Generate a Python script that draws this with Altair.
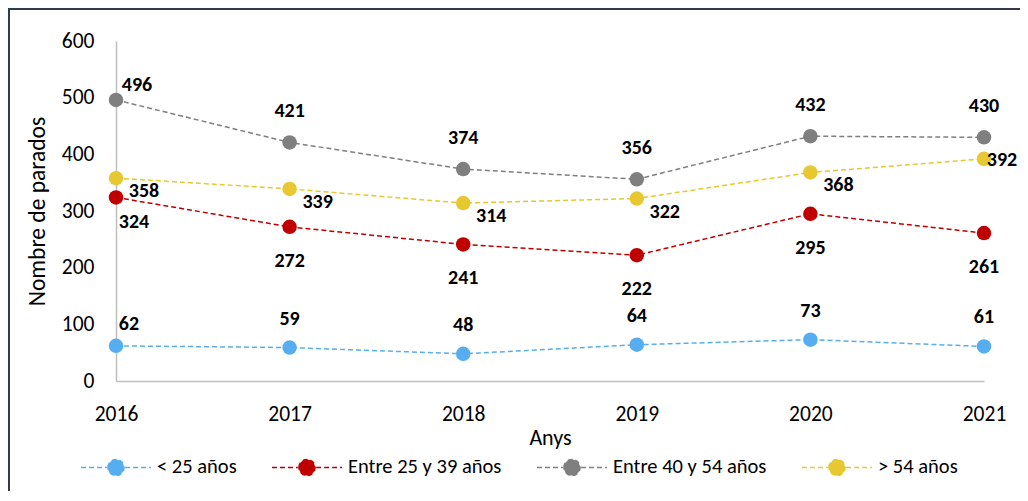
import altair as alt
import pandas as pd
import json

years = ["2016", "2017", "2018", "2019", "2020", "2021"]
series = ["< 25 años", "Entre 25 y 39 años", "Entre 40 y 54 años", "> 54 años"]
v_lt25 = [62, 59, 48, 64, 73, 61]
v_25_39 = [324, 272, 241, 222, 295, 261]
v_40_54 = [496, 421, 374, 356, 432, 430]
v_gt54 = [358, 339, 314, 322, 368, 392]
y_ticks = [0, 100, 200, 300, 400, 500, 600]
colors = ["#56AEF0", "#C00000", "#7F7F7F", "#E8C830"]

rows = []
for s, vals in zip(series, [v_lt25, v_25_39, v_40_54, v_gt54]):
    for yr, v in zip(years, vals):
        rows.append({"Year": yr, "Serie": s, "Value": v})
df = pd.DataFrame(rows)

FONT = "Carlito, Calibri, Lato, sans-serif"

x_enc = alt.X(
    "Year:O",
    scale=alt.Scale(type="point", padding=0),
    axis=alt.Axis(
        title="Anys", labelAngle=0, labelFontSize=21.5, labelFont=FONT, labelColor="#000000",
        labelPadding=22, ticks=False, domainColor="#BFBFBF", domainWidth=1.5,
        titleFontSize=22, titleFont=FONT, titleFontWeight="normal", titleColor="#000000",
        titlePadding=3, grid=False,
    ),
)
y_enc = alt.Y(
    "Value:Q",
    scale=alt.Scale(domain=[0, 600], nice=False),
    axis=alt.Axis(
        title="Nombre de parados", values=y_ticks, labelFontSize=21.5, labelFont=FONT,
        labelColor="#000000", labelPadding=22, ticks=False, domainColor="#BFBFBF",
        domainWidth=1.5, titleFontSize=23.5, titleFont=FONT, titleFontWeight="normal",
        titleColor="#000000", titlePadding=12, grid=False,
    ),
)

legend = alt.Legend(
    title=None, orient="none", direction="horizontal", legendX=-36, legendY=390,
    symbolType=(
        "M-1,0L-0.26,0M0.26,0L1,0"
        "M-0.23,0A0.23,0.23,0,1,1,0.23,0A0.23,0.23,0,1,1,-0.23,0Z"
    ),
    symbolSize=4900, symbolStrokeWidth=1.5, symbolDash=[5, 3], columnPadding=32,
    labelOffset=5, labelFontSize=20.5, labelFont=FONT, labelColor="#000000",
    symbolOpacity=1,
)
color_enc = alt.Color("Serie:N", scale=alt.Scale(domain=series, range=colors), legend=legend)

base = alt.Chart(df)

lines = base.mark_line(strokeDash=[5, 3], strokeWidth=1.5).encode(
    x=x_enc, y=y_enc, color=color_enc
)
points = base.mark_circle(size=210, opacity=1).encode(
    x=x_enc, y=y_enc, color=color_enc
)


def labels(serie, yrs, dx, dy):
    expr = f"datum.Serie == {json.dumps(serie)} && indexof({json.dumps(yrs)}, datum.Year) >= 0"
    return base.transform_filter(expr).mark_text(
        dx=dx, dy=dy, fontWeight="bold", fontSize=20, font=FONT, color="#000000",
        align="center", baseline="middle",
    ).encode(x=x_enc, y=y_enc, text="Value:Q")


label_layers = [
    labels(series[0], ["2016"], 13, -22),
    labels(series[0], years[1:], 0, -29),
    labels(series[1], ["2016"], 18, 25),
    labels(series[1], years[1:], 0, 34),
    labels(series[2], ["2016"], 21, -15),
    labels(series[2], years[1:], 0, -31),
    labels(series[3], years[:5], 28, 13),
    labels(series[3], ["2021"], 18, 1),
]

frame = pd.DataFrame({"k": [0]})
border_top = alt.Chart(frame).mark_rule(color="#2F3B4C", strokeWidth=2).encode(
    x=alt.value(-108), x2=alt.value(920), y=alt.value(-32)
)
border_left = alt.Chart(frame).mark_rule(color="#2F3B4C", strokeWidth=2).encode(
    x=alt.value(-107), y=alt.value(-33), y2=alt.value(460)
)

chart = alt.layer(lines, points, *label_layers, border_top, border_left).properties(
    width=868, height=340,
    autosize="none",
    background="#FFFFFF",
    padding={"left": 108, "top": 33, "right": 36, "bottom": 110},
).configure_view(stroke=None)

chart.save("out.html", embed_options={"renderer": "svg", "actions": False})
